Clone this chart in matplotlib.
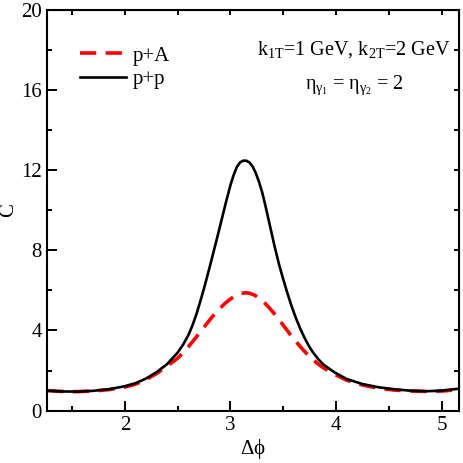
import matplotlib
matplotlib.use("Agg")
from matplotlib import pyplot as plt
from matplotlib.lines import Line2D

# values
dphi_pp = [1.265, 1.40, 1.55, 1.70, 1.85, 2.00, 2.10, 2.20, 2.30, 2.40, 2.50,
           2.55, 2.60, 2.64, 2.68, 2.72, 2.76, 2.80, 2.84, 2.88, 2.92, 2.96,
           3.00, 3.03, 3.06, 3.09, 3.12, 3.15, 3.18, 3.21, 3.24, 3.27, 3.30,
           3.33, 3.36, 3.39, 3.42, 3.46, 3.50, 3.54, 3.58, 3.62, 3.66, 3.70,
           3.74, 3.78, 3.83, 3.88, 3.98, 4.10, 4.25, 4.40, 4.55, 4.70, 4.85,
           5.00, 5.167]
C_pp = [1.00, 0.96, 0.95, 0.99, 1.07, 1.22, 1.37, 1.60, 1.92, 2.32, 2.90,
        3.28, 3.75, 4.25, 4.85, 5.55, 6.30, 7.10, 7.92, 8.75, 9.60, 10.45,
        11.25, 11.75, 12.15, 12.38, 12.47, 12.47, 12.38, 12.18, 11.85, 11.42, 10.90,
        10.25, 9.55, 8.85, 8.15, 7.30, 6.55, 5.85, 5.20, 4.62, 4.10, 3.65,
        3.25, 2.92, 2.58, 2.30, 1.93, 1.58, 1.33, 1.17, 1.07, 1.00, 0.97,
        1.00, 1.10]

dphi_pA = [1.265, 1.40, 1.55, 1.70, 1.85, 2.00, 2.10, 2.20, 2.30, 2.40, 2.50,
           2.55, 2.60, 2.65, 2.70, 2.75, 2.80, 2.85, 2.90, 2.95, 3.00, 3.05,
           3.10, 3.14, 3.18, 3.23, 3.28, 3.33, 3.38, 3.43, 3.48, 3.53, 3.58,
           3.63, 3.68, 3.73, 3.78, 3.83, 3.88, 3.98, 4.10, 4.25, 4.40, 4.55,
           4.70, 4.85, 5.00, 5.167]
C_pA = [1.00, 0.96, 0.95, 0.98, 1.05, 1.18, 1.32, 1.55, 1.85, 2.22, 2.62,
        2.88, 3.18, 3.50, 3.83, 4.17, 4.50, 4.82, 5.10, 5.36, 5.57, 5.74,
        5.85, 5.88, 5.86, 5.76, 5.58, 5.34, 5.06, 4.74, 4.40, 4.05, 3.71,
        3.39, 3.08, 2.80, 2.55, 2.33, 2.14, 1.83, 1.52, 1.28, 1.12, 1.03,
        0.98, 0.96, 0.98, 1.05]

xticks = [2, 3, 4, 5]
yticks = [0, 4, 8, 12, 16, 20]

plt.rcParams['font.family'] = ['Liberation Serif', 'DejaVu Serif']
plt.rcParams['mathtext.fontset'] = 'custom'
plt.rcParams['mathtext.rm'] = 'Liberation Serif'
plt.rcParams['mathtext.it'] = 'Liberation Serif'

fig = plt.figure(figsize=(4.63, 4.63), dpi=100)
ax = fig.add_axes([0.102, 0.113, 0.890, 0.866])

ax.plot(dphi_pA, C_pA, color='red', lw=2.6, dashes=(4.5, 2.6))
ax.plot(dphi_pp, C_pp, color='black', lw=1.9)

ax.set_xlim(1.265, 5.167)
ax.set_ylim(0, 20)
ax.set_xticks(xticks)
ax.set_xticks([1.5, 2.5, 3.5, 4.5], minor=True)
ax.set_yticks(yticks)
ax.set_yticks([2, 6, 10, 14, 18], minor=True)
ax.tick_params(which='major', direction='in', length=7, width=1.4, labelsize=15, pad=4)
ax.tick_params(which='minor', direction='in', length=3.5, width=1.4)
for s in ax.spines.values():
    s.set_linewidth(1.5)

# top and right: short ticks only
top = ax.secondary_xaxis('top')
top.set_xticks([1.5, 2, 2.5, 3, 3.5, 4, 4.5, 5])
top.tick_params(direction='in', length=3.5, width=1.4, labeltop=False)
right = ax.secondary_yaxis('right')
right.set_yticks([2, 4, 6, 8, 10, 12, 14, 16, 18])
right.tick_params(direction='in', length=3.5, width=1.4, labelright=False)

ax.set_xlabel(r'$\Delta\phi$', fontsize=15, labelpad=1)
ax.set_ylabel('C', fontsize=15, labelpad=2)

handles = [Line2D([], [], color='red', lw=2.6, dashes=(4.5, 2.6)),
           Line2D([], [], color='black', lw=1.9)]
ax.legend(handles, ['p+A', 'p+p'], loc='upper left', bbox_to_anchor=(0.06, 0.93),
          frameon=False, fontsize=15, handlelength=2.2, handletextpad=0.3,
          labelspacing=0.2, borderaxespad=0)

ax.text(0.745, 0.9, r'k$_{\mathrm{1T}}$=1 GeV, k$_{\mathrm{2T}}$=2 GeV',
        transform=ax.transAxes, ha='center', va='center', fontsize=14.5)
ax.text(0.745, 0.812, r'$\eta_{\gamma_1}$ = $\eta_{\gamma_2}$ = 2',
        transform=ax.transAxes, ha='center', va='center', fontsize=14.5)

fig.savefig('out.png', dpi=100)
